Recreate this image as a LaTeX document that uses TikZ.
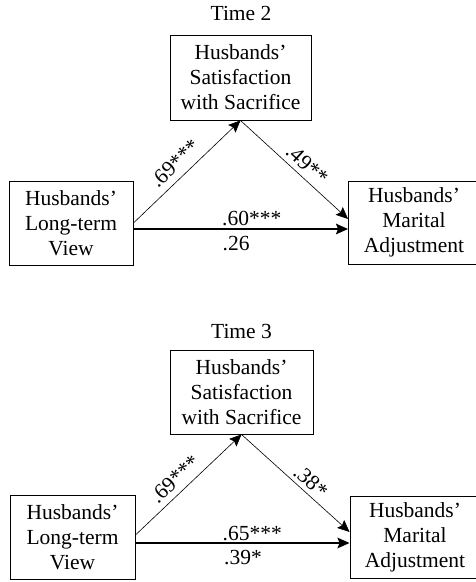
\documentclass[tikz,border=0pt]{standalone}
\usepackage{fontspec}
\setmainfont{Liberation Serif}
\usetikzlibrary{arrows.meta}
\begin{document}
\begin{tikzpicture}[x=1pt,y=-1pt,
  txt/.style={font=\fontsize{21.5}{25}\selectfont},
  varbox/.style={draw, line width=0.9pt, txt, align=center, inner sep=0pt},
  thinarr/.style={line width=0.6pt, -{Stealth[length=12pt,width=10.5pt,inset=2pt]}},
  thickarr/.style={line width=2pt, -{Stealth[length=12pt,width=10.5pt,inset=2pt]}},
  coef/.style={txt, inner sep=0pt}
]
\useasboundingbox (0,0) rectangle (476,582);

% ---------- Time 2 ----------
\node[txt, anchor=base] (t2) at (241,20) {Time 2};
\node[varbox, minimum width=141pt, minimum height=85pt] (s2) at (240.5,77.5) {Husbands’\\Satisfaction\\with Sacrifice};
\node[varbox, minimum width=124pt, minimum height=84pt] (l2) at (71,223) {Husbands’\\Long-term\\View};
\node[varbox, minimum width=131pt, minimum height=83pt] (m2) at (414,222.5) {Husbands’\\Marital\\Adjustment};

\draw[thinarr] (l2.east) -- (s2.south)
  node[pos=0.48, sloped, above, txt, inner sep=7pt] (a2) {.69***};
\draw[thinarr] (s2.south) -- ([yshift=3.5pt]m2.west)
  node[pos=0.54, sloped, above, txt, inner sep=5pt] (b2) {.49**};
\draw[thickarr] ([yshift=-6pt]l2.east) -- ([yshift=-6.5pt]m2.west);
\node[coef, anchor=base west] (c2) at (222,225) {.60***};
\node[coef, anchor=base west] (d2) at (222.5,250) {.26};

% ---------- Time 3 ----------
\node[txt, anchor=base] (t3) at (241.5,338) {Time 3};
\node[varbox, minimum width=143pt, minimum height=84pt] (s3) at (241.5,392) {Husbands’\\Satisfaction\\with Sacrifice};
\node[varbox, minimum width=125pt, minimum height=84pt] (l3) at (72.5,537) {Husbands’\\Long-term\\View};
\node[varbox, minimum width=130pt, minimum height=82pt] (m3) at (415,537) {Husbands’\\Marital\\Adjustment};

\draw[thinarr] ([yshift=2pt]l3.east) -- (s3.south)
  node[pos=0.46, sloped, above, txt, inner sep=6pt] (a3) {.69***};
\draw[thinarr] (s3.south) -- ([yshift=5pt]m3.west)
  node[pos=0.57, sloped, above, txt, inner sep=4pt] (b3) {.38*};
\draw[thickarr] ([yshift=-6pt]l3.east) -- ([yshift=-6pt]m3.west);
\node[coef, anchor=base west] (c3) at (222.5,540) {.65***};
\node[coef, anchor=base west] (d3) at (224,564) {.39*};
\end{tikzpicture}
\end{document}
